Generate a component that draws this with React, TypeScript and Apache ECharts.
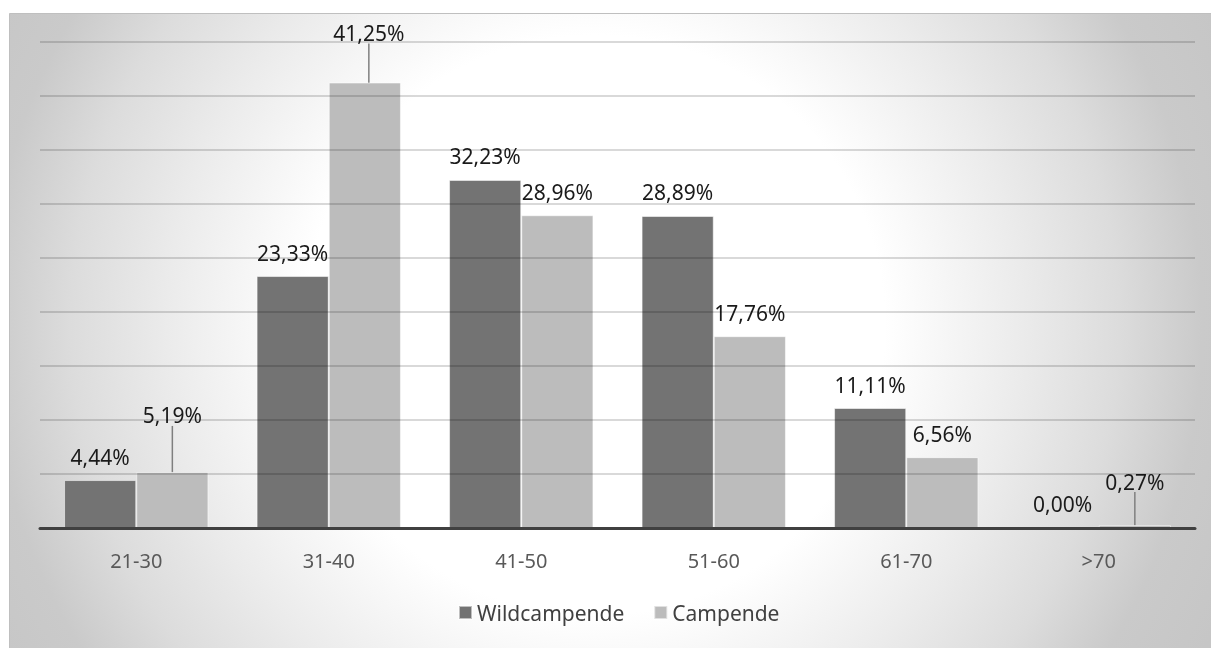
import React, { useEffect, useRef } from "react";
import * as echarts from "echarts";

const categories = ["21-30", "31-40", "41-50", "51-60", "61-70", ">70"];
const wildcampende = [4.44, 23.33, 32.23, 28.89, 11.11, 0.0];
const campende = [5.19, 41.25, 28.96, 17.76, 6.56, 0.27];
const seriesNames = ["Wildcampende", "Campende"];
// label offsets (index -> [dx, dy]) for labels moved off with a leader line
const campendeLabelMoves: Record<number, [number, number]> = {
  0: [0, -33],
  1: [4, -26],
  5: [0, -20],
};

const fmt = (v: number) => v.toFixed(2).replace(".", ",") + "%";

export default function App() {
  const ref = useRef<HTMLDivElement>(null);
  useEffect(() => {
    if (!ref.current) return;
    const chart = echarts.init(ref.current, null, { renderer: "svg" });
    const font = "'Noto Sans', 'DejaVu Sans', sans-serif";
    const labelBase = {
      show: true,
      position: "top",
      distance: 13,
      color: "#1a1a1a",
      fontSize: 21,
      fontFamily: font,
      formatter: (p: any) => fmt(p.value as number),
    };
    chart.setOption({
      animation: false,
      graphic: [
        {
          type: "rect",
          z: -10,
          silent: true,
          shape: { x: 9.5, y: 13.5, width: 1210, height: 640 },
          style: {
            stroke: "#bfbfbf",
            lineWidth: 1,
            fill: {
              type: "radial",
              x: 595,
              y: 325,
              r: 690,
              global: true,
              colorStops: [
                { offset: 0, color: "#ffffff" },
                { offset: 0.42, color: "#ffffff" },
                { offset: 0.62, color: "#ebebeb" },
                { offset: 0.76, color: "#dcdcdc" },
                { offset: 0.88, color: "#cacaca" },
                { offset: 1, color: "#c6c6c6" },
              ],
            },
          },
        },
      ],
      grid: { left: 40, right: 16, top: 42, bottom: 120, containLabel: false },
      legend: {
        left: 458,
        top: 602,
        padding: 0,
        itemWidth: 13,
        itemHeight: 13,
        itemGap: 29,
        icon: "rect",
        textStyle: { color: "#404040", fontSize: 21, fontFamily: font },
        data: seriesNames,
      },
      xAxis: {
        type: "category",
        data: categories,
        z: 4,
        axisLine: { show: true, lineStyle: { color: "#404040", width: 3 } },
        axisTick: { show: false },
        axisLabel: { color: "#595959", fontSize: 20, fontFamily: font, margin: 22 },
        splitLine: { show: false },
      },
      yAxis: {
        type: "value",
        min: 0,
        max: 45,
        interval: 5,
        z: 3,
        axisLabel: { show: false },
        axisLine: { show: false },
        axisTick: { show: false },
        splitLine: { show: true, lineStyle: { color: "rgba(0,0,0,0.2)", width: 1.5 } },
      },
      series: [
        {
          name: seriesNames[0],
          type: "bar",
          data: wildcampende,
          barGap: "0%",
          barCategoryGap: "25%",
          itemStyle: { color: "#737373", borderColor: "rgba(255,255,255,0.55)", borderWidth: 1 },
          label: labelBase,
        },
        {
          name: seriesNames[1],
          type: "bar",
          data: campende.map((v, i) =>
            campendeLabelMoves[i]
              ? { value: v, labelLine: { show: true, lineStyle: { color: "#7f7f7f", width: 1.5 } } }
              : v
          ),
          barGap: "0%",
          barCategoryGap: "25%",
          itemStyle: { color: "#bcbcbc", borderColor: "rgba(255,255,255,0.55)", borderWidth: 1 },
          label: labelBase,
          labelLine: { show: false },
          labelLayout: (params: any) => {
            const m = campendeLabelMoves[params.dataIndex];
            return m ? { dx: m[0], dy: m[1] } : {};
          },
        },
      ],
    });
    return () => chart.dispose();
  }, []);
  return (
    <div
      ref={ref}
      style={{ position: "fixed", left: 0, top: 0, width: 1211, height: 648 }}
    />
  );
}
